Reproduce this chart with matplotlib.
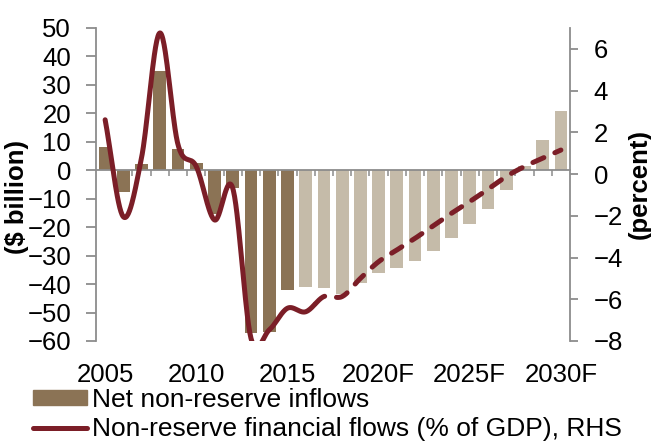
import numpy as np
import matplotlib.pyplot as plt
from matplotlib.patches import Patch
from matplotlib.lines import Line2D

plt.rcParams['font.family'] = ['Liberation Sans', 'DejaVu Sans']

years = list(range(2005, 2031))
# Net non-reserve inflows ($ billion), LHS
inflows = [8.3, -7.5, 2.2, 34.8, 7.3, 2.7, -15.5, -6.3, -57.3, -57.0, -42.0,
           -41.1, -41.5, -43.5, -39.7, -36.0, -34.2, -31.8, -28.3, -23.7,
           -18.9, -13.6, -6.9, 1.6, 10.7, 20.9]
last_actual = 2015
# Non-reserve financial flows (% of GDP), RHS
flows_pct = [2.6, -2.05, 0.8, 6.76, 1.4, 0.36, -2.2, -0.68, -7.87, -7.47,
             -6.43, -6.6, -5.87, -5.87, -5.0, -4.2, -3.64, -3.08, -2.48,
             -1.88, -1.32, -0.73, -0.12, 0.36, 0.76, 1.15]
solid_until = 2016.5

label_years = [2005, 2010, 2015, 2020, 2025, 2030]
label_text = ['2005', '2010', '2015', '2020F', '2025F', '2030F']

dark = '#8b7355'
light = '#c5bba9'
maroon = '#7b1e27'
grey = '#8c8c8c'
fs = 18.5


def smooth(x, y, n=30):
    # Excel style smoothed line: bezier segments with catmull-rom controls
    x = np.asarray(x, float)
    y = np.asarray(y, float)
    px = np.concatenate([[2 * x[0] - x[1]], x, [2 * x[-1] - x[-2]]])
    py = np.concatenate([[2 * y[0] - y[1]], y, [2 * y[-1] - y[-2]]])
    t = np.linspace(0, 1, n, endpoint=False)
    xs, ys = [], []
    for i in range(1, len(px) - 2):
        for p, out in ((px, xs), (py, ys)):
            b0 = p[i]
            b1 = p[i] + (p[i + 1] - p[i - 1]) / 6
            b2 = p[i + 1] - (p[i + 2] - p[i]) / 6
            b3 = p[i + 1]
            out.append((1 - t) ** 3 * b0 + 3 * (1 - t) ** 2 * t * b1
                       + 3 * (1 - t) * t ** 2 * b2 + t ** 3 * b3)
    xs.append([x[-1]])
    ys.append([y[-1]])
    return np.concatenate(xs), np.concatenate(ys)


fig = plt.figure(figsize=(6.51, 4.41), dpi=100)
ax = fig.add_axes([0.1475, 0.2268, 0.7281, 0.7098])

colors = [dark if yr <= last_actual else light for yr in years]
ax.bar(years, inflows, width=0.7, color=colors, zorder=1)

ax.set_xlim(2004.5, 2030.5)
ax.set_ylim(-60, 50)
ax.set_yticks(range(-60, 51, 10))
ax.spines['top'].set_visible(False)
ax.spines['right'].set_visible(False)
ax.spines['left'].set_color(grey)
ax.spines['left'].set_linewidth(1.3)
ax.spines['bottom'].set_position(('data', 0))
ax.spines['bottom'].set_color(grey)
ax.spines['bottom'].set_linewidth(1.3)
ax.set_xticks(np.arange(2005.5, 2030, 1))
ax.set_xticklabels([])
ax.tick_params(axis='x', direction='out', length=4, width=1.1, color=grey)
ax.tick_params(axis='y', direction='out', length=7, width=1.3, color=grey,
               labelsize=fs, pad=11)
for yr, txt in zip(label_years, label_text):
    ax.text(yr, -0.07, txt, transform=ax.get_xaxis_transform(),
            ha='center', va='top', fontsize=fs)
ax.set_ylabel('($ billion)', fontsize=fs, fontweight='bold')
ax.yaxis.set_label_coords(-0.142, 0.46)

ax2 = ax.twinx()
ax2.set_ylim(-8, 7)
ax2.set_yticks(range(-8, 7, 2))
for s in ['top', 'left', 'bottom']:
    ax2.spines[s].set_visible(False)
ax2.spines['right'].set_color(grey)
ax2.spines['right'].set_linewidth(1.3)
ax2.tick_params(axis='y', direction='out', length=6, width=1.3, color=grey,
                labelsize=fs, pad=11)
ax2.set_ylabel('(percent)', fontsize=fs, fontweight='bold')
ax2.yaxis.set_label_coords(1.122, 0.503)

sx, sy = smooth(years, flows_pct)
solid = sx <= solid_until
ax2.plot(sx[solid], sy[solid], color=maroon, lw=3.6,
         solid_capstyle='round', solid_joinstyle='round')
ax2.plot(sx[~solid], sy[~solid], color=maroon, lw=3.6,
         linestyle=(0, (2.4, 2.4)), dash_capstyle='round')

handles = [Patch(color=dark),
           Line2D([], [], color=maroon, lw=3.6, solid_capstyle='round')]
labels = ['Net non-reserve inflows', 'Non-reserve financial flows (% of GDP), RHS']
fig.legend(handles, labels, loc='upper left', bbox_to_anchor=(0.05, 0.121),
           frameon=False, borderpad=0, borderaxespad=0, handlelength=2.05,
           handleheight=0.49, handletextpad=0.22, labelspacing=0.2,
           fontsize=19)

fig.savefig('out.png', dpi=100)
